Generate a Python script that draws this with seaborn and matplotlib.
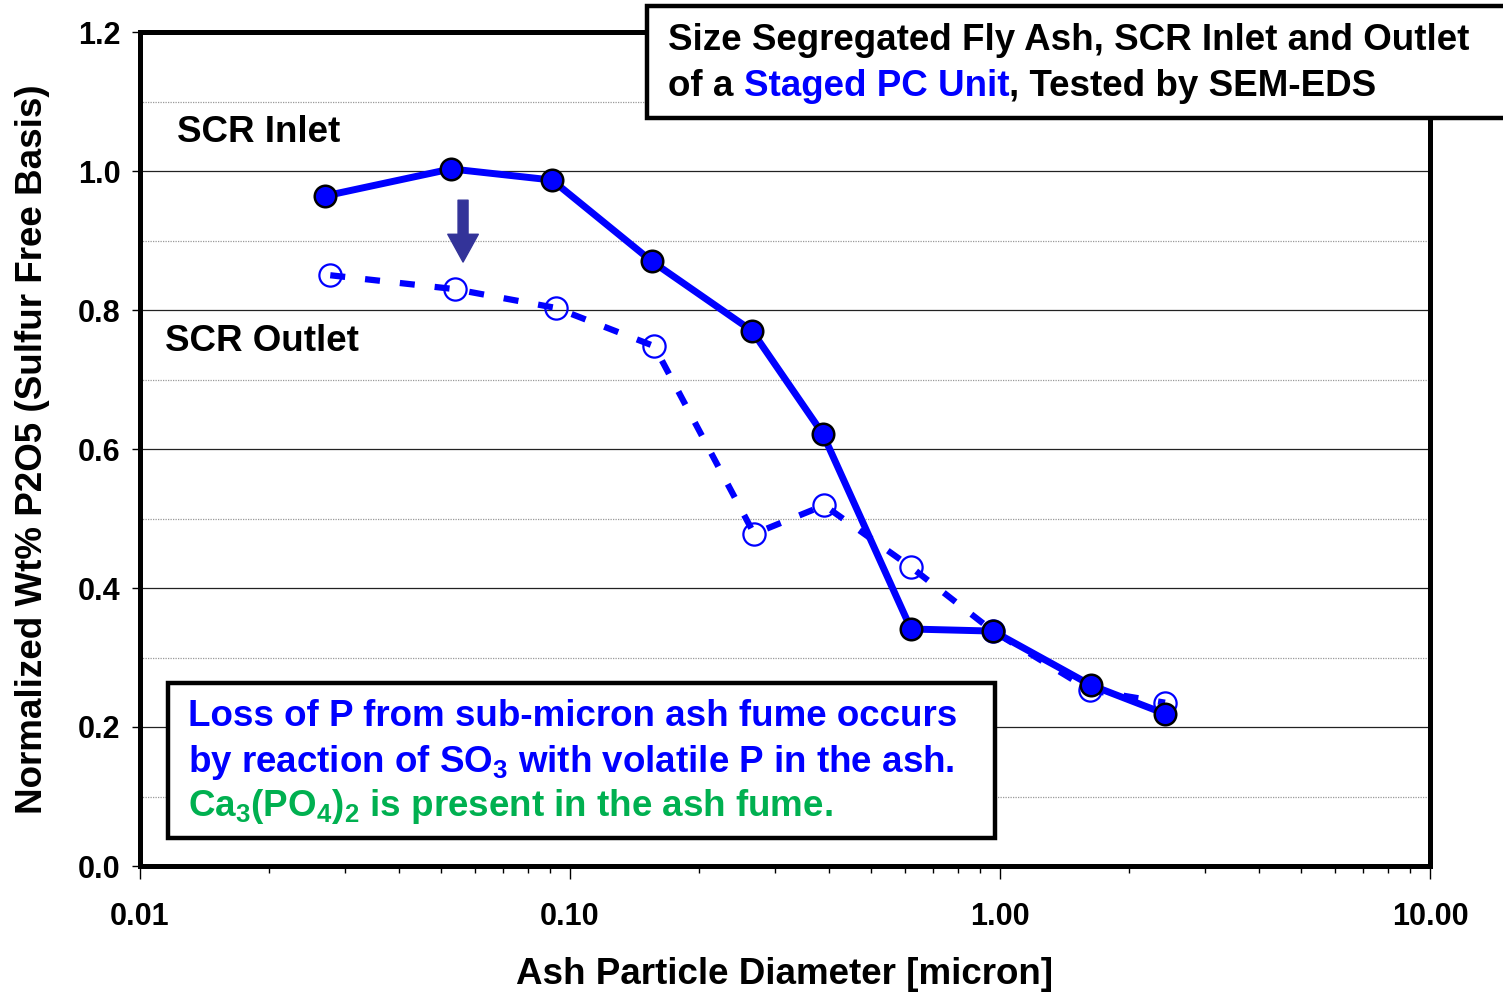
import matplotlib
matplotlib.use("Agg")
import matplotlib.pyplot as plt
from matplotlib.patches import Rectangle
from matplotlib.ticker import FixedLocator, FormatStrFormatter, LogLocator, NullFormatter, MultipleLocator
import seaborn as sns
import pandas as pd

# particle diameter (micron) and normalized wt% P2O5
inlet_diam = [0.0269, 0.0529, 0.0908, 0.155, 0.265, 0.387, 0.621, 0.963, 1.63, 2.42]
inlet_p2o5 = [0.964, 1.003, 0.987, 0.870, 0.770, 0.622, 0.341, 0.338, 0.260, 0.219]
outlet_diam = [0.0277, 0.0540, 0.0927, 0.157, 0.268, 0.390, 0.621, 0.963, 1.62, 2.42]
outlet_p2o5 = [0.850, 0.830, 0.803, 0.748, 0.478, 0.519, 0.430, 0.338, 0.253, 0.235]

x_ticks = [0.01, 0.1, 1.0, 10.0]
y_ticks = [0.0, 0.2, 0.4, 0.6, 0.8, 1.0, 1.2]

sns.set_style("white")
plt.rcParams['font.family'] = ['Liberation Sans', 'DejaVu Sans']
plt.rcParams['font.weight'] = 'bold'
plt.rcParams['text.color'] = 'black'
plt.rcParams['axes.labelcolor'] = 'black'
plt.rcParams['xtick.color'] = 'black'
plt.rcParams['ytick.color'] = 'black'
plt.rcParams['mathtext.fontset'] = 'custom'
plt.rcParams['mathtext.rm'] = 'Liberation Sans:bold'
plt.rcParams['mathtext.it'] = 'Liberation Sans:bold'
plt.rcParams['mathtext.bf'] = 'Liberation Sans:bold'

FS = 26.5  # annotation / label text size

W, H = 1503, 994
fig = plt.figure(figsize=(W / 100, H / 100), dpi=100)
ax = fig.add_axes([140 / W, 1 - 866 / H, 1290 / W, 834 / H])

inlet = pd.DataFrame({"diam": inlet_diam, "p2o5": inlet_p2o5})
outlet = pd.DataFrame({"diam": outlet_diam, "p2o5": outlet_p2o5})

# outlet: dashed line with hollow circles
sns.lineplot(data=outlet, x="diam", y="p2o5", ax=ax, color="#0000FF", lw=4.5,
             marker="o", markersize=16, markerfacecolor="none",
             markeredgecolor="#0000FF", markeredgewidth=1.6, zorder=3)
ax.lines[-1].set_dashes([2.4, 3.2])
# inlet: solid line with filled circles
sns.lineplot(data=inlet, x="diam", y="p2o5", ax=ax, color="#0000FF", lw=5,
             marker="o", markersize=15.5, markerfacecolor="#0000FF",
             markeredgecolor="black", markeredgewidth=1.8, zorder=4)

ax.set_xscale("log")
ax.set_xlim(0.01, 10)
ax.set_ylim(0, 1.2)
ax.xaxis.set_major_locator(FixedLocator(x_ticks))
ax.xaxis.set_major_formatter(FormatStrFormatter("%.2f"))
ax.xaxis.set_minor_locator(LogLocator(base=10, subs=range(2, 10)))
ax.xaxis.set_minor_formatter(NullFormatter())
ax.yaxis.set_major_locator(FixedLocator(y_ticks))
ax.yaxis.set_major_formatter(FormatStrFormatter("%.1f"))
ax.yaxis.set_minor_locator(MultipleLocator(0.1))

ax.tick_params(axis="x", which="major", direction="out", length=9, width=1,
               labelsize=22, pad=17, bottom=True)
ax.tick_params(axis="x", which="minor", direction="out", length=5, width=1, bottom=True)
ax.tick_params(axis="y", which="major", direction="out", length=6, width=1,
               labelsize=22, pad=8, left=True)
ax.tick_params(axis="y", which="minor", length=0)

ax.grid(False)
ax.yaxis.grid(True, which="major", color="#222222", lw=0.9)
ax.yaxis.grid(True, which="minor", color="#999999", lw=0.9, ls=(0, (1, 1)))
ax.set_axisbelow(True)
for s in ax.spines.values():
    s.set_visible(True)
    s.set_color("black")
    s.set_linewidth(3.6)

ax.set_xlabel("Ash Particle Diameter [micron]", fontsize=FS, fontweight="bold", va="center")
ax.set_ylabel("Normalized Wt% P2O5 (Sulfur Free Basis)", fontsize=FS, fontweight="bold", va="center")
ax.xaxis.set_label_coords(0.5, (866 - 975) / 834)
ax.yaxis.set_label_coords((33 - 140) / 1290, 0.5)

# series labels
fig.text(177 / W, 1 - 133 / H, "SCR Inlet", fontsize=FS, fontweight="bold", va="center")
fig.text(165 / W, 1 - 341 / H, "SCR Outlet", fontsize=FS, fontweight="bold", va="center")

# downward arrow
ax.annotate("", xy=(0.0564, 0.869), xytext=(0.0564, 0.958),
            arrowprops=dict(arrowstyle="simple,head_width=1.1,head_length=1.0,tail_width=0.36",
                            color="#333399", shrinkA=0, shrinkB=0, mutation_scale=20), zorder=5)

# title box
fig.patches.append(Rectangle((647 / W, 1 - 118 / H), 870 / W, 112 / H, transform=fig.transFigure,
                             facecolor="white", edgecolor="black", lw=3.2, zorder=10))
fig.text(668 / W, 1 - 41 / H, "Size Segregated Fly Ash, SCR Inlet and Outlet", fontsize=FS,
         fontweight="bold", va="center", zorder=11)
t1 = fig.text(668 / W, 1 - 86 / H, "of a ", fontsize=FS, fontweight="bold", va="center", zorder=11)
t2 = fig.text(0, 0, "Staged PC Unit", fontsize=FS, fontweight="bold", color="#0000FF", zorder=11)
t3 = fig.text(0, 0, ", Tested by SEM-EDS", fontsize=FS, fontweight="bold", zorder=11)

# note box
fig.patches.append(Rectangle((168 / W, 1 - 838 / H), 827 / W, 155 / H, transform=fig.transFigure,
                             facecolor="white", edgecolor="black", lw=3.2, zorder=10))
fig.text(188 / W, 1 - 717 / H, "Loss of P from sub-micron ash fume occurs", fontsize=FS,
         fontweight="bold", color="#0000FF", va="center", zorder=11)
fig.text(188 / W, 1 - 762 / H, "by reaction of SO$_3$ with volatile P in the ash.", fontsize=FS,
         fontweight="bold", color="#0000FF", va="center", zorder=11)
fig.text(188 / W, 1 - 807 / H, "Ca$_3$(PO$_4$)$_2$ is present in the ash fume.", fontsize=FS,
         fontweight="bold", color="#00B050", va="center", zorder=11)

# chain the multi-colour title line
fig.canvas.draw()
r = fig.canvas.get_renderer()
inv = fig.transFigure.inverted()
prev = t1
for t in (t2, t3):
    bb = prev.get_window_extent(r)
    x0, _ = inv.transform((bb.x1, 0))
    t.set_position((x0, prev.get_position()[1]))
    t.set_va("center")
    fig.canvas.draw()
    prev = t

fig.savefig("out.png", dpi=100)
